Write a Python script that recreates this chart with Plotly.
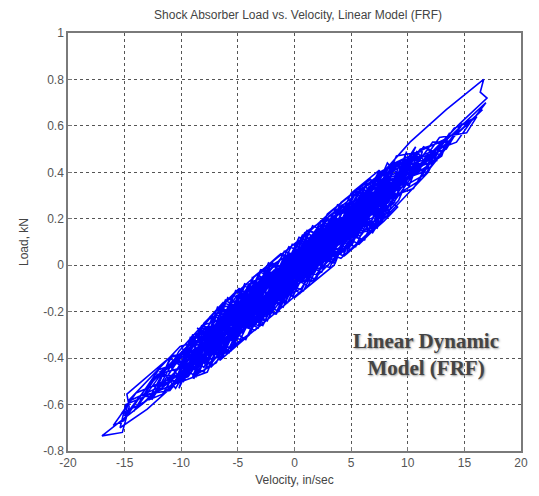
import plotly.graph_objects as go

velocity = [
    0.0, 3.2, 6.8, 9.5, 7.1, 2.4, -3.6, -8.2, -10.4, -7.5,
    -2.8, 2.5, 7.9, 11.8, 12.6, 9.3, 4.1, -1.2, -5.9, -9.6,
    -12.3, -13.9, -11.2, -6.4, -0.8, 4.6, 8.8, 10.2, 6.0, 1.7,
    -4.2, -9.1, -11.7, -8.6, -3.0, 3.3, 9.0, 13.4, 14.8, 11.5,
    5.6, -0.5, -6.7, -10.9, -9.8, -5.1, 0.7, 5.2, 7.4, 4.9,
    0.9, -4.5, -7.3, -6.1, -1.9, 3.8, 8.1, 10.7, 8.3, 2.9,
    -3.3, -9.4, -13.1, -15.0, -14.6, -10.1, -4.7, 1.4, 6.6, 9.9,
    8.7, 3.5, -2.2, -6.9, -8.1, -5.3, -0.2, 4.4, 7.6, 6.3,
    1.2, -3.9, -6.5, -4.8, 0.3, 5.8, 10.5, 12.9, 11.1, 6.5,
    0.4, -5.6, -10.8, -12.9, -11.4, -6.8, -1.5, 3.7, 7.0, 5.4,
    1.0, -2.6, -4.0, -1.4, 2.8, 6.2, 9.7, 12.2, 13.8, 12.0,
    7.7, 2.0, -3.4, -8.8, -11.9, -10.3, -5.7, -0.9, 3.0, 4.8,
    3.6, -1.0, -5.4, -7.9, -7.0, -3.1, 2.2, 7.3, 11.3, 14.1,
    15.6, 14.3, 10.0, 4.0, -1.8, -7.1, -10.6, -9.0, -4.4, 0.6,
    4.5, 6.9, 5.0, 1.3, -2.9, -6.3, -9.3, -12.7, -14.2, -12.1,
    -7.7, -2.4, 2.6, 6.4, 8.5, 7.2, 3.1, -1.6, -5.0, -6.2,
    -4.1, 0.1, 4.7, 9.2, 11.6, 10.4, 5.9, 0.2, -4.9, -8.5,
    -9.9, -8.0, -3.7, 1.8, 5.3, 6.0, 3.4, -0.6, -3.8, -2.0,
    2.7, 8.0, 12.4, 14.9, 16.1, 15.2, 12.8, 8.6, 2.3, -3.5,
    -8.9, -12.5, -13.6, -11.0, -6.0, -0.3, 4.2, 6.7, 5.5, 2.1,
    -2.5, -7.4, -10.0, -9.2, -5.5, -0.1, 5.1, 9.4, 11.9, 10.8,
    7.5, 3.9, -0.4, -4.6, -7.6, -8.4, -6.6, -2.7, 1.6, 5.7,
    8.9, 10.1, 8.2, 4.3, -0.7, -5.2, -9.7, -13.3, -15.3, -14.0,
    -9.5, -4.3, 0.8, 5.0, 7.8, 8.4, 6.1, 2.6, -1.1, -4.5,
    -6.0, -5.0, -2.3, 1.9, 6.4, 10.6, 13.0, 13.7, 10.9, 5.3,
    -0.2, -5.8, -9.0, -10.2, -8.7, -4.0, 0.5, 3.3, 4.0, 2.4,
    -1.3, -6.4, -11.3, -14.4, -16.0, -15.1, -12.0, -7.2, -1.7, 4.1,
    9.6, 12.7, 11.4, 7.0, 2.0, -2.1, -3.9, -2.2, 1.5, 6.8,
    10.3, 9.1, 4.6, -1.5, -6.6, -9.8, -11.6, -10.5, -7.0, -2.6,
    3.0, 7.4, 8.9, 7.6, 3.6, -1.9, -6.3, -8.0, -6.1, -1.0,
    2.2, -1.7, -5.3, -3.0, 1.1, 4.9, 7.2, 4.0, 0.2, -3.4,
    -7.8, -6.0, -2.1, 2.7, 6.0, 8.0, 5.2, 1.6, -2.4, -5.9,
    -8.3, -4.6, -0.9, 3.4, 6.8, 5.9, 2.5, -1.3, -4.2, -6.9,
    -5.0, -1.2, 2.9, 5.5, 8.4, 9.8, 7.1, 3.0, -0.8, -4.4,
    -7.0, -8.8, -6.2, -2.5, 1.3, 4.4, 6.5, 3.2, -0.3, -2.9,
    -6.5, -9.0, -7.4, -3.6, 0.9, 4.1, 7.8, 9.3, 6.6, 2.2,
    -1.6, -4.9, -7.1, -5.0, -1.1, 2.3, 5.6, 7.7, 5.0, 1.4,
    -2.0, -5.7, -8.6, -10.5, -7.9, -3.9, 0.0, 3.8, 7.9, 10.4,
    8.1, 4.7, 1.9, -1.4, -4.8, -6.8, -4.0, -0.6, 3.9, 6.9,
    4.2, 0.6, -3.1, -6.0, -3.5, 0.1, 2.9, 5.7, 8.6, 11.2,
    6.0, 10.2, 13.4, 16.7, 16.4, 17.0, 14.6, 11.0, 6.2, 0.8,
    -4.4, -9.8, -11.1, -14.8, -14.6, -15.2, -17.0, -13.5, -9.0, -3.8,
    3.0, 8.5, 13.0, 16.9, 15.8, 12.2, 7.0, 1.0, -5.0, -11.0,
    -14.9, -15.4, -13.0, -8.0, -2.0, 4.0, 10.0, 16.6, 14.0, 9.0,
    -3.0, 0.8, 4.5, 7.9, 5.6, 1.8, -2.2, -6.0, -8.9, -6.4,
    -2.9, 1.5, 5.0, 8.7, 6.2, 2.0, -1.6, -5.2, -7.8, -4.1,
    0.3, 3.9, 7.0, 9.6, 7.4, 3.1, -0.9, -4.8, -8.1, -9.8,
    -7.2, -3.5, 0.6, 4.2, 6.9, 8.8, 6.7, 2.9, -1.0, -4.4,
    -7.6, -9.5, -7.0, -3.3, 0.0, 3.5, 6.3, 4.6, 1.0, -2.7,
    -5.9, -8.4, -10.6, -8.0, -4.7, -1.2, 2.4, 5.9, 8.3, 9.9,
    7.3, 4.0, 0.9, -2.4, -5.5, -7.4, -5.2, -2.0, 1.7, 5.2,
    8.0, 10.8, 9.2, 6.0, 2.3, -1.4, -4.9, -8.0, -9.9, -7.7,
    -4.4, -0.6, 3.0, 6.6, 9.1, 7.9, 4.4, 0.4, -3.2, -6.6,
    -9.0, -6.9, -3.8, -0.1, 3.8, 7.2, 9.4, 7.5, 3.4, -0.5,
    -4.3, -7.5, -5.8, -2.1, 1.9, 5.3, 7.8, 5.7, 2.2, -1.7,
    -5.4, -8.7, -11.0, -12.6, -10.2, -6.3, -2.6, 1.3, 4.8, 8.4,
    11.4, 13.2, 11.8, 8.1, 4.1, 0.2, -3.6, -6.6, -4.0, -0.2,
    3.6, 6.4, 4.1, 0.5, -3.0, -6.2, -8.6, -6.0, -2.3, 1.6,
    5.1, 8.2, 10.1, 11.3, 9.0, 5.4, 1.1, -2.8, -6.1, -8.9,
    -6.8, -3.2, 0.7, 4.3, 7.5, 5.0, 1.2, -2.3, -5.6, -3.7,
]

# Load (kN) samples matching the velocity list
load = [
    0.01, 0.05, 0.34, 0.38, 0.18, 0.13, -0.19, -0.26, -0.49, -0.33,
    -0.22, 0.14, 0.27, 0.50, 0.45, 0.45, 0.05, -0.05, -0.19, -0.47,
    -0.48, -0.61, -0.43, -0.37, 0.03, 0.16, 0.27, 0.46, 0.33, 0.01,
    -0.10, -0.42, -0.56, -0.30, -0.24, 0.16, 0.43, 0.50, 0.61, 0.39,
    0.23, -0.11, -0.25, -0.44, -0.50, -0.13, -0.04, 0.10, 0.34, 0.18,
    0.09, -0.25, -0.42, -0.24, -0.04, 0.06, 0.32, 0.51, 0.27, 0.08,
    -0.06, -0.48, -0.53, -0.65, -0.58, -0.35, -0.27, 0.08, 0.15, 0.46,
    0.31, 0.21, -0.17, -0.28, -0.27, -0.33, 0.02, 0.15, 0.22, 0.34,
    -0.06, -0.17, -0.23, -0.27, 0.09, 0.25, 0.33, 0.53, 0.50, 0.21,
    0.05, -0.35, -0.39, -0.58, -0.55, -0.26, -0.10, 0.05, 0.36, 0.21,
    -0.02, -0.05, -0.27, -0.08, 0.04, 0.30, 0.36, 0.53, 0.53, 0.42,
    0.36, 0.16, -0.21, -0.36, -0.46, -0.51, -0.17, -0.16, 0.13, 0.12,
    0.21, -0.09, -0.20, -0.42, -0.21, -0.16, 0.00, 0.33, 0.40, 0.59,
    0.62, 0.53, 0.45, 0.05, -0.02, -0.30, -0.51, -0.30, -0.23, -0.10,
    0.21, 0.18, 0.28, 0.08, -0.20, -0.29, -0.34, -0.51, -0.63, -0.47,
    -0.41, -0.10, 0.17, 0.19, 0.37, 0.18, 0.17, -0.11, -0.14, -0.35,
    -0.14, -0.08, 0.18, 0.44, 0.40, 0.44, 0.13, 0.06, -0.22, -0.41,
    -0.36, -0.44, -0.07, 0.02, 0.26, 0.16, 0.14, -0.13, -0.14, -0.01,
    0.04, 0.37, 0.45, 0.61, 0.64, 0.57, 0.55, 0.26, 0.15, -0.18,
    -0.31, -0.57, -0.56, -0.54, -0.22, -0.11, 0.25, 0.25, 0.12, 0.13,
    -0.22, -0.28, -0.45, -0.31, -0.32, 0.01, 0.15, 0.39, 0.42, 0.49,
    0.29, 0.07, 0.05, -0.23, -0.27, -0.42, -0.39, -0.08, -0.03, 0.25,
    0.29, 0.43, 0.42, 0.13, -0.14, -0.16, -0.42, -0.59, -0.64, -0.55,
    -0.46, -0.12, -0.03, 0.25, 0.29, 0.23, 0.30, 0.04, 0.04, -0.28,
    -0.24, -0.14, -0.16, 0.07, 0.32, 0.39, 0.47, 0.57, 0.36, 0.19,
    0.03, -0.29, -0.34, -0.53, -0.37, -0.24, -0.02, 0.21, 0.10, 0.15,
    -0.15, -0.18, -0.51, -0.58, -0.69, -0.67, -0.45, -0.37, -0.09, 0.08,
    0.42, 0.48, 0.51, 0.23, 0.09, -0.04, -0.26, -0.15, 0.10, 0.16,
    0.39, 0.43, 0.12, -0.04, -0.33, -0.39, -0.46, -0.53, -0.24, -0.16,
    0.12, 0.37, 0.27, 0.34, 0.03, -0.04, -0.28, -0.27, -0.32, -0.01,
    0.16, -0.14, -0.22, -0.06, -0.07, 0.22, 0.22, 0.24, -0.04, -0.10,
    -0.37, -0.20, -0.21, 0.10, 0.18, 0.38, 0.17, 0.13, -0.19, -0.22,
    -0.30, -0.29, -0.02, 0.06, 0.28, 0.31, -0.01, -0.04, -0.20, -0.39,
    -0.18, 0.03, 0.03, 0.24, 0.28, 0.43, 0.19, 0.15, -0.11, -0.18,
    -0.22, -0.44, -0.29, -0.06, 0.04, 0.06, 0.29, 0.08, -0.12, -0.07,
    -0.35, -0.34, -0.30, -0.26, 0.10, 0.13, 0.33, 0.30, 0.34, 0.01,
    -0.05, -0.13, -0.35, -0.30, 0.01, 0.02, 0.31, 0.27, 0.14, 0.12,
    -0.17, -0.19, -0.45, -0.41, -0.27, -0.22, -0.09, 0.20, 0.25, 0.45,
    0.39, 0.11, -0.04, -0.02, -0.19, -0.35, -0.08, -0.05, 0.06, 0.31,
    0.15, 0.08, -0.21, -0.19, -0.26, 0.02, 0.20, 0.14, 0.39, 0.44,
    0.30, 0.53, 0.67, 0.80, 0.745, 0.72, 0.61, 0.43, 0.20, -0.06,
    -0.15, -0.38, -0.40, -0.555, -0.61, -0.72, -0.735, -0.60, -0.42, -0.24,
    0.05, 0.30, 0.52, 0.70, 0.63, 0.47, 0.24, -0.04, -0.30, -0.52,
    -0.60, -0.70, -0.62, -0.40, -0.14, 0.12, 0.37, 0.67, 0.55, 0.33,
    -0.03, -0.11, 0.26, 0.20, 0.33, -0.03, 0.00, -0.38, -0.32, -0.40,
    -0.02, -0.07, 0.10, 0.44, 0.11, 0.16, -0.21, -0.11, -0.43, -0.30,
    0.10, 0.26, 0.16, 0.44, 0.40, -0.01, 0.06, -0.32, -0.26, -0.50,
    -0.22, -0.28, -0.11, 0.26, 0.14, 0.29, 0.37, 0.22, -0.18, -0.09,
    -0.44, -0.35, -0.20, -0.04, -0.14, 0.00, 0.35, 0.05, 0.14, -0.25,
    -0.14, -0.46, -0.40, -0.46, -0.10, 0.05, -0.03, 0.34, 0.22, 0.49,
    0.16, 0.24, 0.14, -0.24, -0.15, -0.44, -0.33, 0.01, -0.07, 0.30,
    0.41, 0.47, 0.28, 0.11, 0.19, -0.20, -0.10, -0.25, -0.50, -0.46,
    -0.08, -0.16, 0.21, 0.35, 0.25, 0.19, 0.04, 0.12, -0.26, -0.18,
    -0.48, -0.42, -0.07, -0.13, 0.26, 0.17, 0.45, 0.40, 0.01, 0.08,
    -0.32, -0.22, -0.38, 0.01, -0.06, 0.32, 0.19, 0.09, 0.18, -0.21,
    -0.13, -0.48, -0.40, -0.58, -0.37, -0.16, -0.24, 0.15, 0.07, 0.43,
    0.50, 0.54, 0.40, 0.21, 0.03, 0.10, -0.05, -0.41, -0.30, 0.09,
    0.01, 0.36, 0.27, -0.12, -0.02, -0.36, -0.27, -0.38, -0.23, 0.17,
    0.09, 0.44, 0.34, 0.49, 0.47, 0.08, 0.15, -0.26, -0.15, -0.49,
    -0.18, -0.27, 0.13, 0.04, 0.41, 0.31, -0.09, 0.01, -0.37, -0.05,
]

x_ticks = [-20, -15, -10, -5, 0, 5, 10, 15, 20]
x_labels = ["-20", "-15", "-10", "-5", "0", "5", "10", "15", "20"]
y_ticks = [-0.8, -0.6, -0.4, -0.2, 0, 0.2, 0.4, 0.6, 0.8, 1]
y_labels = ["-0.8", "-0.6", "-0.4", "-0.2", "0", "0.2", "0.4", "0.6", "0.8", "1"]

fig = go.Figure()
fig.add_trace(go.Scatter(
    x=velocity, y=load, mode="lines",
    line=dict(color="#0000ff", width=1.6),
    showlegend=False, hoverinfo="skip",
))

axis_common = dict(
    showgrid=True, gridcolor="#555555", griddash="dot", gridwidth=1,
    zeroline=False, showline=True, linecolor="#7a7a7a", linewidth=1.5,
    mirror=True, ticks="inside", ticklen=4, tickcolor="#7a7a7a",
    tickfont=dict(family="Liberation Sans, Arial", size=12, color="#555555"),
)

fig.update_layout(
    width=539, height=496,
    margin=dict(l=68, r=11, t=33, b=44),
    paper_bgcolor="white", plot_bgcolor="white",
    title=dict(text="Shock Absorber Load vs. Velocity, Linear Model (FRF)",
               x=0.553, xanchor="center", y=0.97, yanchor="middle",
               font=dict(family="Liberation Sans, Arial", size=12, color="#444444")),
    xaxis=dict(range=[-20, 20], tickvals=x_ticks, ticktext=x_labels,
               title=dict(text="Velocity, in/sec", standoff=6,
                          font=dict(family="Liberation Sans, Arial", size=12, color="#444444")),
               **axis_common),
    yaxis=dict(range=[-0.8, 1], tickvals=y_ticks, ticktext=y_labels,
               title=dict(text="Load, kN", standoff=12,
                          font=dict(family="Liberation Sans, Arial", size=12, color="#444444")),
               **axis_common),
)

fig.add_annotation(
    x=11.6, y=-0.385, xref="x", yref="y",
    text="<b>Linear Dynamic</b><br><b>Model (FRF)</b>", showarrow=False,
    font=dict(family="Liberation Serif, Times New Roman", size=21, color="#444444",
              shadow="1px 1px 2px #999999"),
    align="center",
)

fig.write_html("out.html")
